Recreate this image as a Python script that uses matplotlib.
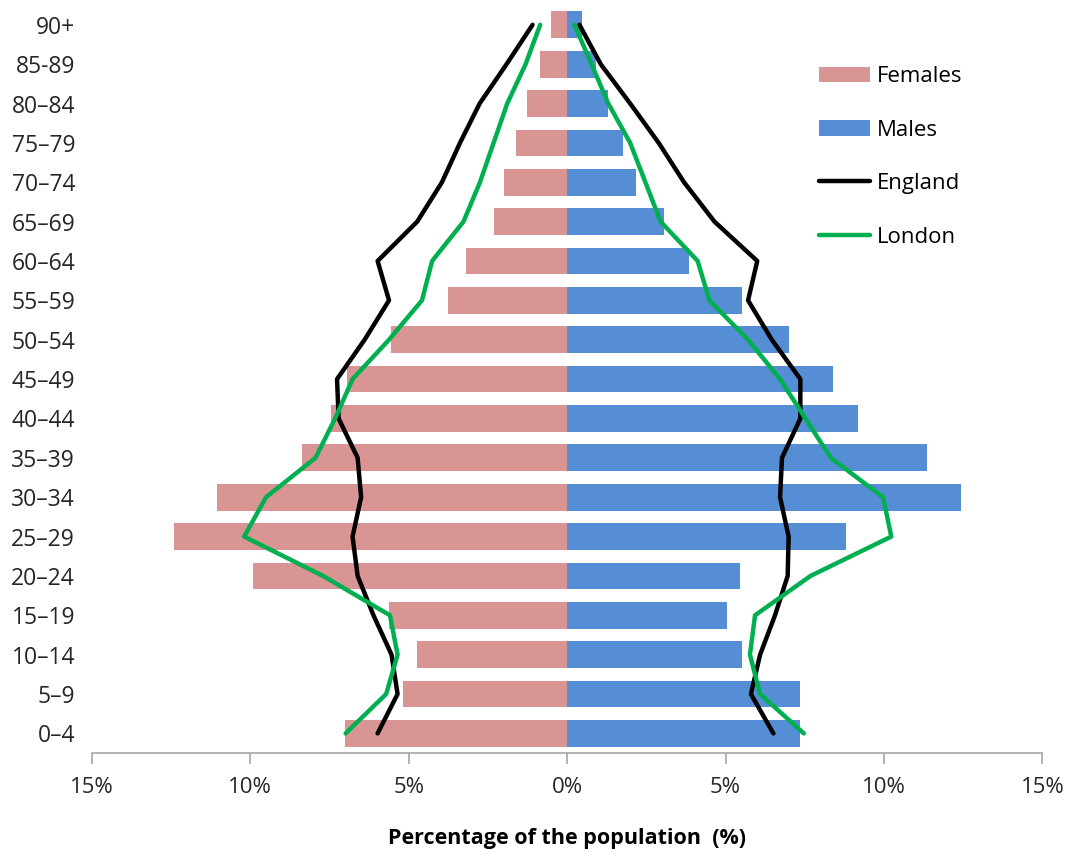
import numpy as np
import matplotlib
matplotlib.use("Agg")
import matplotlib.pyplot as plt
from matplotlib.ticker import FuncFormatter

plt.rcParams['font.family'] = ['Open Sans', 'DejaVu Sans']

# age bands, youngest first (bottom of the pyramid)
ages = ['0–4', '5–9', '10–14', '15–19', '20–24', '25–29', '30–34', '35–39',
        '40–44', '45–49', '50–54', '55–59', '60–64', '65–69', '70–74',
        '75–79', '80–84', '85-89', '90+']

# local area, % of population
females = [7.01, 5.19, 4.73, 5.62, 9.90, 12.42, 11.04, 8.36, 7.46, 6.94,
           5.56, 3.77, 3.20, 2.30, 1.98, 1.61, 1.28, 0.87, 0.51]
males = [7.36, 7.36, 5.53, 5.03, 5.45, 8.81, 12.43, 11.36, 9.17, 8.40,
         6.99, 5.53, 3.86, 3.05, 2.17, 1.76, 1.30, 0.90, 0.46]

# comparators (females drawn on the left, males on the right)
england_f = [5.98, 5.35, 5.54, 6.11, 6.61, 6.77, 6.50, 6.61, 7.21, 7.26,
             6.39, 5.62, 5.98, 4.73, 3.95, 3.38, 2.76, 1.91, 1.09]
england_m = [6.51, 5.80, 6.09, 6.56, 6.96, 6.99, 6.72, 6.78, 7.36, 7.36,
             6.46, 5.71, 6.00, 4.65, 3.69, 2.89, 1.99, 1.06, 0.39]
london_f = [6.99, 5.71, 5.35, 5.59, 7.70, 10.19, 9.50, 7.94, 7.32, 6.77,
            5.62, 4.58, 4.26, 3.27, 2.75, 2.32, 1.89, 1.31, 0.85]
london_m = [7.47, 6.09, 5.77, 5.93, 7.68, 10.23, 9.97, 8.32, 7.52, 6.72,
            5.71, 4.49, 4.12, 2.95, 2.47, 1.99, 1.30, 0.77, 0.23]

pink = '#D99594'
blue = '#558ED5'
green = '#00B050'


def main():
    y = np.arange(len(ages))
    fig = plt.figure(figsize=(10.67, 8.5), dpi=100)
    ax = fig.add_axes([0.086, 0.114, 0.891, 0.880])

    bf = ax.barh(y, -np.array(females), height=0.68, color=pink, label='Females')
    bm = ax.barh(y, males, height=0.68, color=blue, label='Males')

    # each comparator drawn twice: females mirrored left, males right
    le, = ax.plot(-np.array(england_f), y, color='black', lw=3.2,
                  solid_capstyle='round', label='England')
    ax.plot(england_m, y, color='black', lw=3.2, solid_capstyle='round')
    ll, = ax.plot(-np.array(london_f), y, color=green, lw=3.2,
                  solid_capstyle='round', label='London')
    ax.plot(london_m, y, color=green, lw=3.2, solid_capstyle='round')

    ax.set_xlim(-15, 15)
    ax.set_ylim(-0.5, len(ages) - 0.5)
    ax.set_xticks(np.arange(-15, 16, 5))
    ax.xaxis.set_major_formatter(FuncFormatter(lambda v, p: f'{abs(v):.0f}%'))
    ax.set_yticks(y)
    ax.set_yticklabels(ages)

    for s in ['top', 'right', 'left']:
        ax.spines[s].set_visible(False)
    ax.spines['bottom'].set_color('#A6A6A6')
    ax.spines['bottom'].set_linewidth(1.2)
    ax.tick_params(axis='y', length=0, labelsize=16.5, pad=12, colors='#262626')
    ax.tick_params(axis='x', length=8, width=1.2, color='#A6A6A6',
                   labelsize=16, pad=9, labelcolor='#262626')

    ax.set_xlabel('Percentage of the population  (%)', fontsize=15.5,
                  fontweight='bold', labelpad=22)

    ax.legend([bf, bm, le, ll], ['Females', 'Males', 'England', 'London'],
              loc='upper left', bbox_to_anchor=(0.7676, 0.922),
              bbox_transform=fig.transFigure, frameon=False, fontsize=16,
              labelspacing=1.46, handlelength=2.3, handletextpad=0.3,
              borderaxespad=0, borderpad=0)

    fig.savefig('out.png', dpi=100)


if __name__ == '__main__':
    main()
